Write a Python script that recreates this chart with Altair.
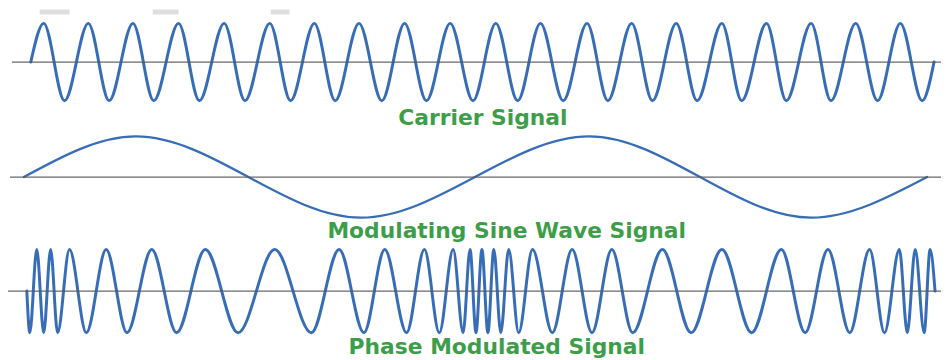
import altair as alt
import pandas as pd

# ---------------- data ----------------
# time axis in picture units, amplitude normalised to +-1 (extrema of each wave)
carrier_t = [31, 44, 65, 89, 110, 134, 155, 180, 201, 226, 247, 272, 293, 317, 338,
             362, 385, 408, 430, 454, 477, 500, 522, 545, 568, 592, 613, 637, 658,
             682, 703, 728, 748, 773, 793, 818, 838, 863, 885, 908, 930, 942]
carrier_a = [0, 1, -1, 1, -1, 1, -1, 1, -1, 1, -1, 1, -1, 1, -1,
             1, -1, 1, -1, 1, -1, 1, -1, 1, -1, 1, -1, 1, -1,
             1, -1, 1, -1, 1, -1, 1, -1, 1, -1, 1, -1, 0]

modulating_t = [24, 137, 364, 594, 818, 935]
modulating_a = [0, 1, -1, 1, -1, 0]

pm_t = [27, 30, 37, 44, 51, 58, 70, 87, 107, 128, 153, 178, 207, 240, 277, 314,
        342, 367, 388, 410, 428, 443, 457, 467, 474, 480, 486, 492, 498, 505,
        513, 523, 537, 557, 577, 597, 617, 638, 668, 697, 728, 758, 788, 812,
        835, 857, 877, 892, 907, 915, 923, 932, 938, 943]
pm_a = [0, -1, 1, -1, 1, -1, 1, -1, 1, -1, 1, -1, 1, -1, 1, -1,
        1, -1, 1, -1, 1, -1, 1, -1, 1, -1, 1, -1, 1, -1,
        1, -1, 1, -1, 1, -1, 1, -1, 1, -1, 1, -1, 1, -1,
        1, -1, 1, -1, 1, -1, 1, -1, 1, 0]

labels = ["Carrier Signal", "Modulating Sine Wave Signal", "Phase Modulated Signal"]
axis_start = [12, 10, 8]
axis_end = [949, 949, 949]
watermark_left = [40, 154, 273]
watermark_right = [70, 180, 292]

# ---------------- layout / style ----------------
W, H = 941, 352
BASE = [61, 177, 292]
AMP = [39, 41, 42]
LABEL_X = [487, 511, 501]
LABEL_Y = [124, 238, 355]
BLUE = "#376db6"
GREEN = "#3d9e4a"
AXIS = "#56585c"
GRAY = "#dedede"

xs = alt.Scale(domain=[8, 949], nice=False, zero=False)
ys = alt.Scale(domain=[8, 360], reverse=True, nice=False, zero=False)


def wave(t, a, i, sw):
    df = pd.DataFrame({"t": t, "a": a})
    return (
        alt.Chart(df)
        .transform_calculate(py=f"{BASE[i]} - {AMP[i]} * datum.a")
        .mark_line(interpolate="monotone", color=BLUE, strokeWidth=sw,
                   strokeCap="round", strokeJoin="round")
        .encode(x=alt.X("t:Q", scale=xs, axis=None),
                y=alt.Y("py:Q", scale=ys, axis=None))
    )


wm_df = pd.DataFrame({"l": watermark_left, "r": watermark_right})
watermark = alt.Chart(wm_df).mark_rect(color=GRAY).encode(
    x=alt.X("l:Q", scale=xs, axis=None), x2="r:Q",
    y=alt.value(0), y2=alt.value(5))

axes_df = pd.DataFrame({"s": axis_start, "e": axis_end, "b": BASE})
axes = alt.Chart(axes_df).mark_rule(color=AXIS, strokeWidth=1.3, opacity=0.9).encode(
    x=alt.X("s:Q", scale=xs, axis=None), x2="e:Q",
    y=alt.Y("b:Q", scale=ys, axis=None))

lab_df = pd.DataFrame({"label": labels, "lx": LABEL_X, "ly": LABEL_Y})
texts = alt.Chart(lab_df).mark_text(
    font="DejaVu Sans", fontWeight="bold", fontSize=22, color=GREEN,
    align="center", baseline="alphabetic").encode(
    x=alt.X("lx:Q", scale=xs, axis=None),
    y=alt.Y("ly:Q", scale=ys, axis=None),
    text="label:N")

chart = alt.layer(
    watermark,
    wave(carrier_t, carrier_a, 0, 3),
    wave(modulating_t, modulating_a, 1, 2.3),
    wave(pm_t, pm_a, 2, 3),
    axes,
    texts,
).properties(
    width=W, height=H,
    autosize=alt.AutoSizeParams(type="none"),
    padding=0,
    background="white",
).configure_view(stroke=None)

chart.save("out.html", embed_options={"renderer": "svg", "actions": False})
